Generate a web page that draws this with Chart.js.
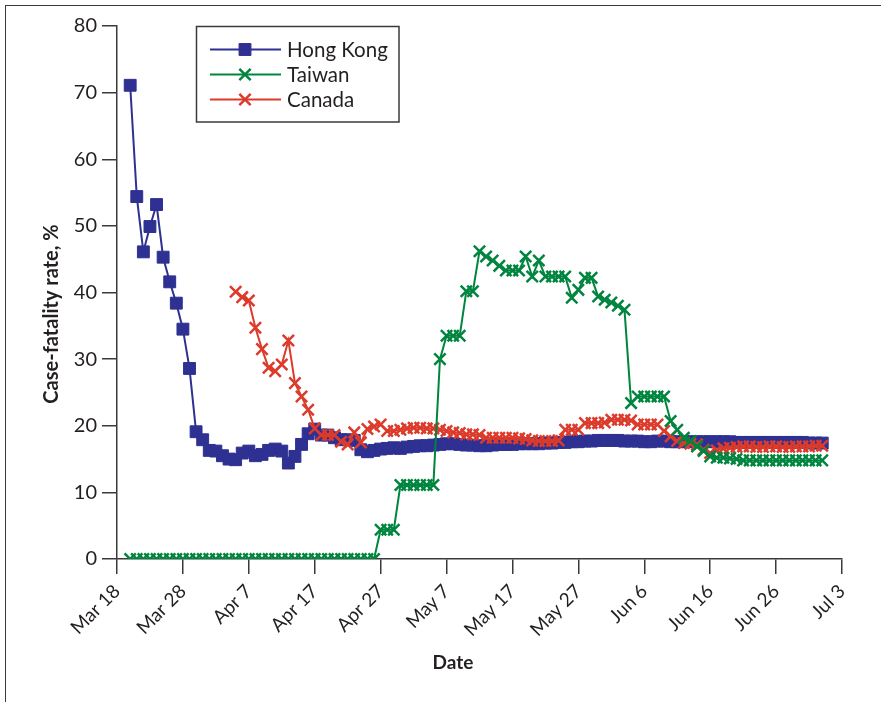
<!DOCTYPE html>
<html>
<head>
<meta charset="utf-8">
<title>Case-fatality rate</title>
<script src="https://cdn.jsdelivr.net/npm/chart.js"></script>
<style>
    html, body { margin: 0; padding: 0; background: #fff; overflow: hidden; }
    #frame { position: absolute; left: 5px; top: 5px; width: 1000px; height: 1000px; border: 1px solid #3a3a3a; }
    #wrap { position: absolute; left: 0; top: 0; width: 881px; height: 702px; }
</style>
</head>
<body>
<div id="frame"></div>
<div id="wrap"><canvas id="chart" width="881" height="702"></canvas></div>
<script>
// DATA (x = days after Mar 18)
const tickLabels = ["Mar 18", "Mar 28", "Apr 7", "Apr 17", "Apr 27", "May 7",
    "May 17", "May 27", "Jun 6", "Jun 16", "Jun 26", "Jul 3"];

const hongKongStart = 2;
const hongKong = [
    71.1, 54.4, 46.1, 49.9, 53.2, 45.3, 41.6, 38.4, 34.5, 28.6,
    19.1, 17.9, 16.3, 16.2, 15.5, 15.0, 14.9, 15.9, 16.2, 15.5,
    15.7, 16.3, 16.5, 16.2, 14.4, 15.4, 17.2, 18.8, 19.5, 18.6,
    18.6, 18.2, 17.9, 17.9, 17.8, 16.4, 16.1, 16.3, 16.5, 16.6,
    16.7, 16.6, 16.8, 16.9, 17.0, 17.0, 17.1, 17.2, 17.3, 17.3,
    17.2, 17.1, 17.1, 17.0, 17.0, 17.1, 17.2, 17.2, 17.2, 17.3,
    17.3, 17.3, 17.3, 17.4, 17.4, 17.5, 17.5, 17.6, 17.6, 17.7,
    17.7, 17.8, 17.8, 17.8, 17.8, 17.7, 17.7, 17.7, 17.6, 17.6,
    17.7, 17.7, 17.6, 17.6, 17.6, 17.6, 17.6, 17.6, 17.6, 17.6,
    17.6, 17.6, 17.5, 17.5, 17.5, 17.5, 17.5, 17.5, 17.5, 17.5,
    17.5, 17.5, 17.5, 17.4, 17.4, 17.4
];

const taiwanStart = 2;
const taiwan = [
    0, 0, 0, 0, 0, 0, 0, 0, 0, 0,
    0, 0, 0, 0, 0, 0, 0, 0, 0, 0,
    0, 0, 0, 0, 0, 0, 0, 0, 0, 0,
    0, 0, 0, 0, 0, 0, 0, 0,
    4.4, 4.4, 4.4,
    11.1, 11.1, 11.1, 11.1, 11.1, 11.1,
    30.0, 33.5, 33.5, 33.5, 40.2, 40.2, 46.2, 45.4, 44.8, 44.0,
    43.3, 43.3, 43.3, 45.4, 42.4, 44.8, 42.4, 42.4, 42.4, 42.4,
    39.2, 40.4, 42.2, 42.2, 39.4, 38.9, 38.5, 38.0, 37.4, 23.4,
    24.4, 24.4, 24.4, 24.4, 24.4, 20.7, 19.4, 18.2, 17.7, 16.9,
    16.2, 15.4, 15.2, 15.2, 15.1, 15.0,
    14.8, 14.8, 14.8, 14.8, 14.8, 14.8, 14.8, 14.8, 14.8, 14.8,
    14.8, 14.8, 14.8
];

const canadaStart = 18;
const canada = [
    40.1, 39.3, 38.8, 34.7, 31.5, 28.7, 28.2, 29.2, 32.8, 26.4,
    24.4, 22.4, 19.6, 18.6, 18.6, 18.6, 17.6, 17.2, 19.0, 17.5,
    19.5, 19.9, 20.2, 19.2, 19.2, 19.4, 19.6, 19.7, 19.7, 19.6,
    19.6, 19.4, 19.2, 19.0, 18.9, 18.7, 18.7, 18.6, 18.2, 18.2,
    18.2, 18.2, 18.2, 18.1, 18.0, 17.8, 17.7, 17.7, 17.7, 17.8,
    19.4, 19.4, 19.4, 20.4, 20.4, 20.4, 20.5, 20.9, 20.9, 20.9,
    20.8, 20.2, 20.2, 20.2, 20.2, 19.2, 18.4, 17.7, 17.4, 17.3,
    17.2, 16.4, 15.9, 16.3, 16.6, 16.7, 16.8, 16.9, 16.9, 16.8,
    16.8, 16.9, 16.9, 16.8, 16.8, 16.9, 16.9, 16.9, 17.0, 17.0
];

const BLUE = "#2e3192";
const GREEN = "#00853f";
const RED = "#dc3b2b";
const INK = "#231f20";
const FONT = "Lato";

function points(start, values) {
    return values.map((v, i) => ({ x: start + i, y: v }));
}

// LEGEND + AXIS TITLES
const extras = {
    id: "extras",
    afterDraw(chart) {
        const ctx = chart.ctx;
        ctx.save();

        // legend box
        ctx.strokeStyle = "#3a3a3a";
        ctx.lineWidth = 1.5;
        ctx.strokeRect(196.5, 26.5, 202.5, 95.5);

        const rows = [49.5, 74.5, 99.5];
        chart.data.datasets.forEach((ds, i) => {
            const y = rows[i];
            ctx.strokeStyle = ds.borderColor;
            ctx.lineWidth = 2;
            ctx.beginPath();
            ctx.moveTo(210, y);
            ctx.lineTo(281, y);
            ctx.stroke();
            ctx.fillStyle = ds.borderColor;
            ctx.lineWidth = ds.pointBorderWidth;
            Chart.helpers.drawPoint(ctx, {
                pointStyle: ds.pointStyle,
                radius: ds.pointRadius,
                rotation: 0,
                borderWidth: ds.pointBorderWidth
            }, 245, y);
            ctx.fillStyle = INK;
            ctx.font = "20.5px " + FONT;
            ctx.textAlign = "left";
            ctx.textBaseline = "middle";
            ctx.fillText(ds.label, 287, y + 1);
        });

        // axis titles
        ctx.fillStyle = INK;
        ctx.font = "bold 19px " + FONT;
        ctx.textAlign = "center";
        ctx.textBaseline = "middle";
        ctx.fillText("Date", 453, 663);
        ctx.font = "bold 20px " + FONT;
        ctx.translate(52, 314);
        ctx.rotate(-Math.PI / 2);
        ctx.fillText("Case-fatality rate, %", 0, 0);
        ctx.restore();
    }
};

new Chart(document.getElementById("chart"), {
    type: "line",
    data: {
        datasets: [{
            label: "Hong Kong",
            data: points(hongKongStart, hongKong),
            borderColor: BLUE,
            backgroundColor: BLUE,
            pointStyle: "rect",
            pointRadius: 8.4,
            pointBorderWidth: 1,
            order: 3
        }, {
            label: "Taiwan",
            data: points(taiwanStart, taiwan),
            borderColor: GREEN,
            backgroundColor: GREEN,
            pointStyle: "crossRot",
            pointRadius: 8,
            pointBorderWidth: 2.5,
            order: 1
        }, {
            label: "Canada",
            data: points(canadaStart, canada),
            borderColor: RED,
            backgroundColor: RED,
            pointStyle: "crossRot",
            pointRadius: 8,
            pointBorderWidth: 2.5,
            order: 2
        }]
    },
    options: {
        responsive: false,
        animation: false,
        elements: { line: { borderWidth: 2, tension: 0 } },
        layout: { padding: { left: 0, top: 26, right: 39, bottom: 0 } },
        plugins: { legend: { display: false }, tooltip: { enabled: false } },
        scales: {
            x: {
                type: "linear",
                min: 0,
                max: 110,
                afterBuildTicks: axis => {
                    axis.ticks = tickLabels.map((t, i) => ({ value: i * 10 }));
                },
                afterFit: s => { s.height = 143; },
                ticks: {
                    callback: (v, i) => tickLabels[i],
                    minRotation: 45,
                    maxRotation: 45,
                    color: INK,
                    padding: 6,
                    font: { family: FONT, size: 19 }
                },
                grid: { drawOnChartArea: false, tickLength: 15, color: "#3a3a3a", lineWidth: 1.5 },
                border: { color: "#3a3a3a", width: 1.5 }
            },
            y: {
                min: 0,
                max: 80,
                afterFit: s => { s.width = 117; },
                ticks: {
                    stepSize: 10,
                    color: INK,
                    padding: 5,
                    font: { family: FONT, size: 20 }
                },
                grid: { drawOnChartArea: false, tickLength: 15, color: "#3a3a3a", lineWidth: 1.5 },
                border: { color: "#3a3a3a", width: 1.5 }
            }
        }
    },
    plugins: [extras]
});
</script>
</body>
</html>
